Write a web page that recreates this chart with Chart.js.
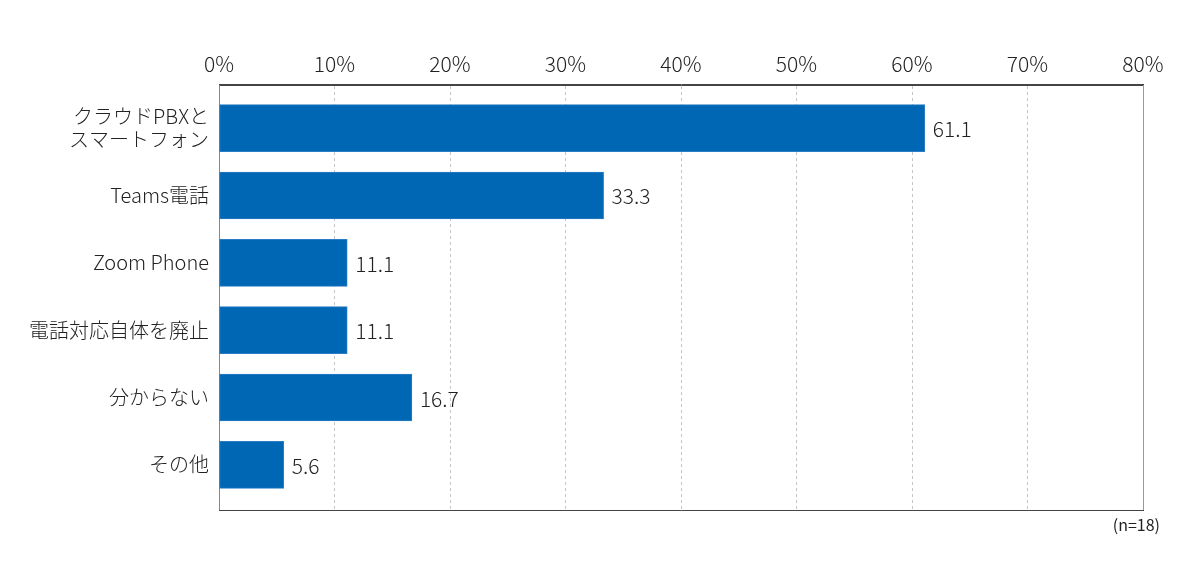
<!DOCTYPE html>
<html>
<head>
<meta charset="utf-8">
<script src="https://cdn.jsdelivr.net/npm/chart.js@4/dist/chart.umd.min.js"></script>
<style>
html,body{margin:0;padding:0;background:#fff;}
#wrap{width:1200px;height:569px;position:relative;}
</style>
</head>
<body>
<div id="wrap"><canvas id="c" width="1200" height="569"></canvas></div>
<script>
const categories = [["クラウドPBXと","スマートフォン"], "Teams電話", "Zoom Phone", "電話対応自体を廃止", "分からない", "その他"];
const values = [61.1, 33.3, 11.1, 11.1, 16.7, 5.6];
const xTicks = [0, 10, 20, 30, 40, 50, 60, 70, 80];
const note = "(n=18)";

const FONT = "'Noto Sans CJK JP', 'Noto Sans', sans-serif";

const frame = {
  id: 'frame',
  afterDraw(chart) {
    const {ctx, chartArea: a} = chart;
    ctx.save();
    ctx.lineWidth = 1;
    ctx.strokeStyle = '#999';
    ctx.beginPath(); ctx.moveTo(a.right + 0.5, a.top); ctx.lineTo(a.right + 0.5, a.bottom); ctx.stroke();
    ctx.strokeStyle = '#444';
    ctx.beginPath(); ctx.moveTo(a.left, a.bottom + 0.5); ctx.lineTo(a.right + 1, a.bottom + 0.5); ctx.stroke();
    ctx.beginPath(); ctx.moveTo(a.left, a.top - 0.5); ctx.lineTo(a.right + 1, a.top - 0.5); ctx.stroke();
    // value labels
    ctx.fillStyle = '#222';
    ctx.font = '300 21px ' + FONT;
    ctx.textAlign = 'left';
    ctx.textBaseline = 'middle';
    const meta = chart.getDatasetMeta(0);
    meta.data.forEach((bar, i) => {
      ctx.fillText(values[i].toFixed(1), bar.x + 8, bar.y + 1);
    });
    ctx.font = '16px ' + FONT;
    ctx.textAlign = 'right';
    ctx.fillText(note, 1160, 525);
    ctx.restore();
  }
};

new Chart(document.getElementById('c'), {
  type: 'bar',
  data: {
    datasets: [{
      data: values.map((v, i) => ({x: v, y: i})),
      backgroundColor: '#0067b5',
      borderColor: '#2a7cc4',
      borderWidth: 1,
      borderSkipped: false,
      barThickness: 47
    }]
  },
  options: {
    indexAxis: 'y',
    responsive: false,
    animation: false,
    devicePixelRatio: 1,
    layout: {padding: {left: 0, right: 57, top: 0, bottom: 59}},
    plugins: {legend: {display: false}, tooltip: {enabled: false}},
    scales: {
      x: {
        type: 'linear',
        position: 'top',
        min: 0, max: 80,
        afterBuildTicks: s => { s.ticks = xTicks.map(v => ({value: v})); },
        afterFit: s => { s.height = 85; },
        ticks: {
          callback: v => v + '%',
          color: '#222',
          font: {family: FONT, size: 21, weight: '300'},
          padding: 8,
          maxRotation: 0
        },
        grid: {
          color: c => c.tick && c.tick.value === 0 ? 'rgba(0,0,0,0)' : '#c4c4c4',
          lineWidth: 1,
          drawTicks: false
        },
        border: {display: true, color: '#444', dash: [3, 3]}
      },
      y: {
        type: 'linear',
        reverse: true,
        offset: false,
        min: -0.64, max: 5.67,
        afterBuildTicks: s => { s.ticks = categories.map((c, i) => ({value: i})); },
        afterFit: s => { s.width = 219; },
        ticks: {
          callback: v => categories[v],
          color: '#222',
          font: {family: FONT, size: 20, weight: '300', lineHeight: 1.15},
          padding: 10,
          autoSkip: false
        },
        grid: {display: false, drawTicks: false, offset: false},
        border: {display: true, color: '#888'}
      }
    }
  },
  plugins: [frame]
});
</script>
</body>
</html>
